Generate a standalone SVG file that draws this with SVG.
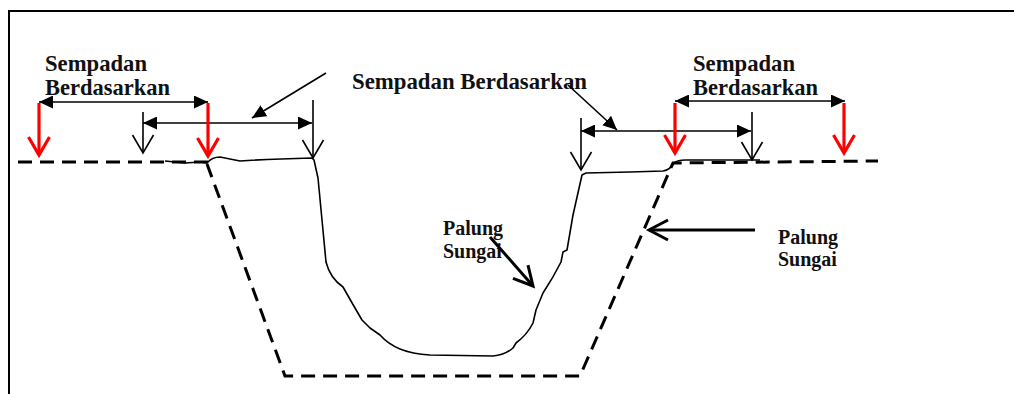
<svg xmlns="http://www.w3.org/2000/svg" width="1014" height="394" viewBox="0 0 1014 394">
<style>
.lbl{font-family:"Liberation Serif","Times New Roman","DejaVu Serif",serif;font-weight:bold;fill:#111;}
.big{font-size:22.5px;}
.small{font-size:20px;}
.dash{fill:none;stroke:#000;stroke-width:3;stroke-dasharray:14 8;}
.bank{fill:none;stroke:#000;stroke-width:1.6;stroke-linejoin:round;}
.dim{fill:none;stroke:#000;stroke-width:1.6;}
.red{fill:none;stroke:#f00;stroke-width:3.2;}
.thin{fill:none;stroke:#000;stroke-width:1.6;}
.ptr{fill:none;stroke:#000;stroke-width:1.6;}
.thick{fill:none;stroke:#000;stroke-width:3;}
</style>
<defs>
<marker id="fh" markerUnits="userSpaceOnUse" viewBox="0 0 14 13" refX="14" refY="6.5" markerWidth="14" markerHeight="13" orient="auto-start-reverse">
<path d="M0,0 L14,6.5 L0,13 z" fill="#000"/>
</marker>
<marker id="vred" markerUnits="userSpaceOnUse" viewBox="-22 -13 25 26" refX="0" refY="0" markerWidth="25" markerHeight="26" orient="auto" overflow="visible">
<path d="M-18,-10.5 L0,0 L-18,10.5" fill="none" stroke="#f00" stroke-width="3.2"/>
</marker>
<marker id="vblk" markerUnits="userSpaceOnUse" viewBox="-22 -13 25 26" refX="0" refY="0" markerWidth="25" markerHeight="26" orient="auto" overflow="visible">
<path d="M-18,-10.5 L0,0 L-18,10.5" fill="none" stroke="#000" stroke-width="1.6"/>
</marker>
<marker id="vthick" markerUnits="userSpaceOnUse" viewBox="-22 -13 25 26" refX="0" refY="0" markerWidth="25" markerHeight="26" orient="auto" overflow="visible">
<path d="M-19,-10 L0,0 L-19,10" fill="none" stroke="#000" stroke-width="3"/>
</marker>
</defs>
<rect width="1014" height="394" fill="#fff"/>
<g id="frame">
<path d="M9,394 L9,11 L1014,11" fill="none" stroke="#000" stroke-width="2"/>
</g>
<g id="ground">
<path class="dash" d="M18,162 L212,162"/>
<path class="dash" d="M207,164 L285,376 L580,376 L673,163 L878,161"/>
<path class="bank" d="M165,161 L185,163 L200,162 L207,163 Q212,157 220,157 L240,161 Q270,159 312,158 L314,160 L318,178 L322,220 L326,262 Q330,278 343,287 Q352,303 362,320 L370,328 L380,335 Q388,344 400,349 Q412,354 430,355 L493,356 Q505,355 513,348 L516,343 Q527,335 533,323 L536,310 L543,293 Q553,278 561,262 L563,252 L567,250 L573,215 L582,175 L586,173 L630,172 L663,171 Q670,170 674,163 Q678,160 685,160 L760,160"/>
</g>
<g id="label-left">
<text class="lbl big" x="45" y="71" textLength="102" lengthAdjust="spacingAndGlyphs">Sempadan</text>
<text class="lbl big" x="45" y="95" textLength="125" lengthAdjust="spacingAndGlyphs">Berdasarkan</text>
</g>
<g id="label-center">
<text class="lbl big" x="352" y="89" textLength="235" lengthAdjust="spacingAndGlyphs">Sempadan Berdasarkan</text>
</g>
<g id="label-right">
<text class="lbl big" x="693" y="71" textLength="102" lengthAdjust="spacingAndGlyphs">Sempadan</text>
<text class="lbl big" x="693" y="95" textLength="125" lengthAdjust="spacingAndGlyphs">Berdasarkan</text>
</g>
<g id="label-palung-mid">
<text class="lbl small" x="443" y="235">Palung</text>
<text class="lbl small" x="443" y="258">Sungai</text>
</g>
<g id="label-palung-right">
<text class="lbl small" x="778" y="244">Palung</text>
<text class="lbl small" x="778" y="266">Sungai</text>
</g>
<g id="connectors">
<line class="dim" x1="39" y1="102" x2="208" y2="102" marker-start="url(#fh)" marker-end="url(#fh)"/>
<line class="dim" x1="143" y1="123" x2="312" y2="123" marker-start="url(#fh)" marker-end="url(#fh)"/>
<line class="dim" x1="581" y1="131" x2="751" y2="131" marker-start="url(#fh)" marker-end="url(#fh)"/>
<line class="dim" x1="675" y1="101" x2="845" y2="101" marker-start="url(#fh)" marker-end="url(#fh)"/>
<line class="red" x1="39" y1="103" x2="39" y2="155" marker-end="url(#vred)"/>
<line class="red" x1="208" y1="103" x2="208" y2="156" marker-end="url(#vred)"/>
<line class="red" x1="675" y1="103" x2="675" y2="153" marker-end="url(#vred)"/>
<line class="red" x1="844" y1="103" x2="844" y2="153" marker-end="url(#vred)"/>
<line class="thin" x1="143" y1="112" x2="143" y2="153" marker-end="url(#vblk)"/>
<line class="thin" x1="313" y1="100" x2="313" y2="158" marker-end="url(#vblk)"/>
<line class="thin" x1="581" y1="118" x2="581" y2="170" marker-end="url(#vblk)"/>
<line class="thin" x1="752" y1="112" x2="752" y2="160" marker-end="url(#vblk)"/>
<line class="ptr" x1="326" y1="73" x2="252" y2="118" marker-end="url(#fh)"/>
<line class="ptr" x1="568" y1="85" x2="617" y2="130" marker-end="url(#fh)"/>
<line class="thick" x1="490" y1="237" x2="533" y2="286" marker-end="url(#vthick)"/>
<line class="thick" x1="755" y1="230" x2="649" y2="230" marker-end="url(#vthick)"/>
</g>
</svg>
